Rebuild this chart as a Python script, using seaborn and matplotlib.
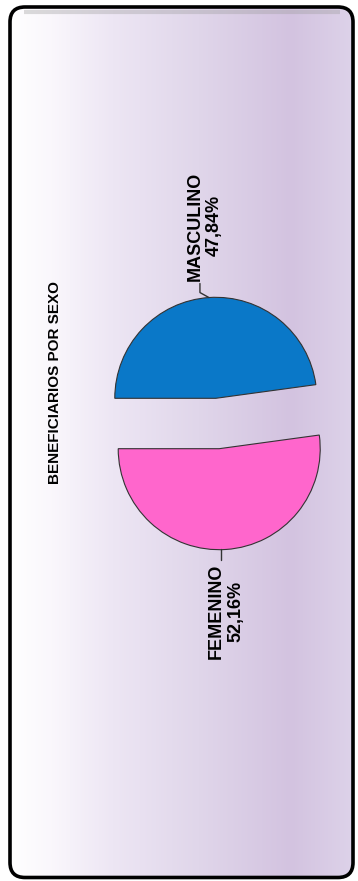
import matplotlib.pyplot as plt
import numpy as np
import seaborn as sns
from matplotlib import font_manager
from matplotlib.colors import LinearSegmentedColormap
from matplotlib.patches import FancyBboxPatch

# data
title = 'BENEFICIARIOS POR SEXO'
sexes = ['MASCULINO', 'FEMENINO']
shares = [47.84, 52.16]
share_labels = ['47,84%', '52,16%']
slice_colors = ['#0A78C8', '#FF66CC']

W, H = 358, 881

sns.set_theme(style='white')
narrow_bold = any(f.name == 'Liberation Sans Narrow' and f.weight in (700, 'bold')
                  for f in font_manager.fontManager.ttflist)
if narrow_bold:
    font, title_size, label_size = 'Liberation Sans Narrow', 13, 16
else:
    font, title_size, label_size = 'Liberation Sans', 11, 13
plt.rcParams['font.family'] = [font, 'DejaVu Sans']

fig = plt.figure(figsize=(W / 100, H / 100), dpi=100)
ax = fig.add_axes([0, 0, 1, 1])

# background panel with horizontal lavender gradient
panel = FancyBboxPatch((10, 3.5), 343, 870.5, boxstyle='round,pad=0,rounding_size=15',
                       fc='none', ec='black', lw=2.6, zorder=3)
ax.add_patch(panel)
grad_cmap = LinearSegmentedColormap.from_list('panel', [
    (0.0, '#FFFFFF'), (0.12, '#FAF7FC'), (0.3, '#EDE6F4'),
    (0.55, '#E0D6EA'), (0.82, '#D3C3E0'), (1.0, '#DDD2E9')])
im = ax.imshow(np.linspace(0, 1, 256)[None, :], extent=(10, 353, 3.5, 874), aspect='auto',
               cmap=grad_cmap, zorder=0)
im.set_clip_path(panel)
ax.plot([24, 340], [869, 869], color='#9A9A9A', lw=3, alpha=0.35, zorder=1,
        solid_capstyle='butt')

# pie
R = 101
center = (217.5, 457.5)
start = 180 - shares[0] / sum(shares) * 360
wedges, _ = ax.pie(shares, colors=slice_colors, startangle=start, counterclock=True,
                   radius=R, center=center, frame=True,
                   wedgeprops=dict(edgecolor='#333333', linewidth=0.8))
offset = 0.25 * R
leader_bend = [-9, 0]
for w, name, lab, bend in zip(wedges, sexes, share_labels, leader_bend):
    mid = np.deg2rad((w.theta1 + w.theta2) / 2)
    cx = center[0] + offset * np.cos(mid)
    cy = center[1] + offset * np.sin(mid)
    w.set_center((cx, cy))
    w.set_zorder(2)
    px, py = cx + R * np.cos(mid), cy + R * np.sin(mid)
    up = np.sign(np.sin(mid))
    if bend:
        xs = [px, px + bend, px + bend]
        ys = [py, py + 5 * up, py + 14 * up]
    else:
        xs = [px - 5, px - 5]
        ys = [py, py + 11 * up]
    ax.plot(xs, ys, color='#333333', lw=1, zorder=2)
    ax.text(xs[-1] + 5, ys[-1] + 3 * up, f'{name}\n{lab}', rotation=90,
            ha='center', va='bottom' if up > 0 else 'top', multialignment='center',
            fontsize=label_size, fontweight='bold', color='black', linespacing=1.2,
            zorder=4)

ax.text(55, H - 383, title, rotation=90, ha='center', va='center',
        fontsize=title_size, fontweight='bold', color='black', zorder=4)

ax.set_xlim(0, W)
ax.set_ylim(0, H)
ax.set_aspect('auto')
ax.axis('off')
fig.savefig('out.png', dpi=100)
